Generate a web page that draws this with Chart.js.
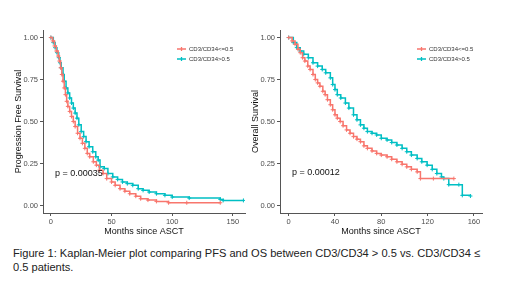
<!DOCTYPE html>
<html>
<head>
<meta charset="utf-8">
<script src="https://cdn.jsdelivr.net/npm/chart.js@4.4.1/dist/chart.umd.min.js"></script>
<style>
  body { margin: 0; background: #fff; width: 520px; height: 300px; overflow: hidden; position: relative; font-family: "Liberation Sans", Arial, sans-serif; }
  canvas { position: absolute; top: 0; }
  #pfs { left: 0; }
  #os  { left: 250px; }
  .caption { position: absolute; left: 13px; top: 246px; font-size: 11.1px; line-height: 14px; color: #222; }
</style>
</head>
<body>
<canvas id="pfs" width="250" height="240"></canvas>
<canvas id="os" width="250" height="240"></canvas>
<div class="caption">Figure 1: Kaplan-Meier plot comparing PFS and OS between CD3/CD34 &gt; 0.5 vs. CD3/CD34 ≤<br>0.5 patients.</div>

<script>
// ---- data ----
const groupLabels = ['CD3/CD34<=0.5', 'CD3/CD34>0.5'];

// PFS, CD3/CD34 <= 0.5
const pfsLowMonths = [0, 1.5, 3, 4.5, 6, 7, 8, 9, 10, 11, 12, 13, 14, 15.5, 17, 18.5, 20, 22, 24, 26, 28, 30, 32, 35, 37.5, 40, 43, 46, 50, 53, 57, 61, 65, 70, 74, 80, 87, 97, 112, 139.6];
const pfsLowSurv   = [1, 0.98, 0.95, 0.92, 0.89, 0.86, 0.82, 0.78, 0.74, 0.70, 0.66, 0.62, 0.59, 0.56, 0.53, 0.50, 0.47, 0.43, 0.40, 0.37, 0.34, 0.31, 0.29, 0.26, 0.24, 0.21, 0.19, 0.16, 0.14, 0.12, 0.10, 0.085, 0.07, 0.055, 0.04, 0.032, 0.024, 0.016, 0.016, 0.016];
// PFS, CD3/CD34 > 0.5
const pfsHighMonths = [0, 2, 3.5, 5, 6.5, 7.5, 8.5, 10, 11, 12.5, 14, 15.5, 17, 18.5, 20, 21.5, 23, 25, 27, 29, 31.5, 34.5, 37, 39, 40.5, 44, 47, 51, 55, 59, 63, 67.5, 72, 76, 81, 87, 94, 100, 114, 139.6, 142, 158.7];
const pfsHighSurv   = [1, 0.97, 0.94, 0.91, 0.88, 0.85, 0.82, 0.78, 0.74, 0.70, 0.67, 0.64, 0.61, 0.58, 0.55, 0.52, 0.48, 0.44, 0.41, 0.38, 0.35, 0.32, 0.29, 0.27, 0.23, 0.22, 0.19, 0.17, 0.155, 0.14, 0.13, 0.12, 0.10, 0.09, 0.08, 0.07, 0.06, 0.05, 0.044, 0.036, 0.03, 0.03];

// OS, CD3/CD34 <= 0.5
const osLowMonths = [0, 3, 5.5, 8, 10, 12, 14, 16.5, 18.5, 21, 23, 25, 27, 29.5, 31.5, 33.5, 36, 38, 40, 42, 44.5, 47, 50, 53, 56, 59, 62, 65, 68, 72, 76, 80, 85, 89, 93.5, 98, 102, 106, 111, 113.8, 125, 142.7];
const osLowSurv   = [1, 0.98, 0.96, 0.93, 0.91, 0.88, 0.86, 0.83, 0.81, 0.78, 0.75, 0.73, 0.71, 0.68, 0.66, 0.63, 0.60, 0.57, 0.54, 0.52, 0.50, 0.475, 0.45, 0.43, 0.41, 0.395, 0.38, 0.355, 0.34, 0.325, 0.31, 0.30, 0.29, 0.275, 0.26, 0.245, 0.23, 0.215, 0.20, 0.16, 0.16, 0.16];
// OS, CD3/CD34 > 0.5
const osHighMonths = [0, 4, 7, 10, 13, 17, 21, 25, 29, 32, 36, 38, 40, 42, 45, 49, 52, 56, 59, 62, 65, 68, 72, 76, 80, 85, 89, 93.5, 98, 102, 106, 111, 115, 119.6, 124, 128, 132, 134, 138.3, 147, 150, 157];
const osHighSurv   = [1, 0.97, 0.94, 0.92, 0.90, 0.88, 0.85, 0.83, 0.81, 0.79, 0.76, 0.72, 0.69, 0.66, 0.64, 0.61, 0.58, 0.54, 0.51, 0.48, 0.46, 0.44, 0.43, 0.42, 0.40, 0.39, 0.375, 0.36, 0.34, 0.32, 0.30, 0.28, 0.26, 0.24, 0.215, 0.19, 0.17, 0.16, 0.124, 0.124, 0.06, 0.056];

const pfsXTicks = [0, 50, 100, 150];
const osXTicks  = [0, 40, 80, 120, 160];
const survTicks = [0, 0.25, 0.5, 0.75, 1];

const RED  = '#F8766D';
const TEAL = '#00BFC4';
const colors = [RED, TEAL];

function toPoints(xs, ys) {
  return xs.map((x, i) => ({ x: x, y: ys[i] }));
}

// p-value text + small legend inside the panel
const panelText = {
  id: 'panelText',
  afterDatasetsDraw(chart, args, o) {
    const { ctx, scales: { x, y }, chartArea } = chart;
    ctx.save();
    ctx.fillStyle = '#111';
    ctx.font = '9px "Liberation Sans", Arial, sans-serif';
    ctx.textBaseline = 'middle';
    ctx.textAlign = 'left';
    ctx.fillText(o.pText, x.getPixelForValue(o.pAt[0]), y.getPixelForValue(o.pAt[1]));

    ctx.font = '6px "Liberation Sans", Arial, sans-serif';
    groupLabels.forEach((lab, i) => {
      const lx = chartArea.left + o.legendDx;
      const ly = o.legendY + i * 10;
      ctx.strokeStyle = colors[i];
      ctx.lineWidth = 1.3;
      ctx.beginPath();
      ctx.moveTo(lx, ly); ctx.lineTo(lx + 9, ly);
      ctx.moveTo(lx + 4.5, ly - 2); ctx.lineTo(lx + 4.5, ly + 2);
      ctx.stroke();
      ctx.fillStyle = '#333';
      ctx.fillText(lab, lx + 12, ly);
    });
    ctx.restore();
  }
};

function makeKM(id, cfg) {
  const tickFont = { family: '"Liberation Sans", Arial, sans-serif', size: 7.5 };
  const titleFont = { family: '"Liberation Sans", Arial, sans-serif', size: 9 };
  return new Chart(document.getElementById(id), {
    type: 'line',
    data: {
      datasets: cfg.series.map((s, i) => ({
        label: groupLabels[i],
        data: toPoints(s[0], s[1]),
        borderColor: colors[i],
        backgroundColor: colors[i],
        borderWidth: 1.5,
        stepped: true,
        pointStyle: 'cross',
        pointRadius: 2,
        pointBorderWidth: 1,
        pointBorderColor: colors[i],
      })),
    },
    options: {
      responsive: false,
      animation: false,
      layout: { padding: { top: 30, right: cfg.padRight, bottom: 0, left: 0 } },
      plugins: {
        legend: { display: false },
        tooltip: { enabled: false },
        panelText: { pText: cfg.pText, pAt: cfg.pAt, legendDx: cfg.legendDx, legendY: 49 },
      },
      scales: {
        x: {
          type: 'linear',
          min: cfg.xMin, max: cfg.xMax,
          afterBuildTicks: sc => { sc.ticks = cfg.xTicks.map(v => ({ value: v })); },
          afterFit: sc => { sc.height = 27; },
          grid: { drawOnChartArea: false, drawTicks: true, tickLength: 3, color: '#555' },
          border: { display: true, color: '#555', width: 1 },
          ticks: { font: tickFont, color: '#4d4d4d', padding: 1, maxRotation: 0 },
          title: { display: true, text: 'Months since ASCT', font: titleFont, color: '#111', padding: { top: 0, bottom: 3 } },
        },
        y: {
          min: -0.045, max: 1.045,
          afterBuildTicks: sc => { sc.ticks = survTicks.map(v => ({ value: v })); },
          afterFit: sc => { sc.width = cfg.yWidth; },
          grid: { drawOnChartArea: false, drawTicks: true, tickLength: 3, color: '#555' },
          border: { display: true, color: '#555', width: 1 },
          ticks: { font: tickFont, color: '#4d4d4d', padding: 2, callback: v => Number(v).toFixed(2) },
          title: { display: true, text: cfg.yTitle, font: titleFont, color: '#111', padding: { top: cfg.yTitlePad, bottom: 0 } },
        },
      },
    },
    plugins: [panelText],
  });
}

makeKM('pfs', {
  series: [[pfsLowMonths, pfsLowSurv], [pfsHighMonths, pfsHighSurv]],
  xMin: -6.5, xMax: 160, xTicks: pfsXTicks,
  yTitle: 'Progression Free Survival', yWidth: 43, yTitlePad: 13, padRight: 4,
  pText: 'p = 0.00035', pAt: [3.3, 0.19], legendDx: 134,
});

makeKM('os', {
  series: [[osLowMonths, osLowSurv], [osHighMonths, osHighSurv]],
  xMin: -7.5, xMax: 167, xTicks: osXTicks,
  yTitle: 'Overall Survival', yWidth: 30, yTitlePad: 0, padRight: 18,
  pText: 'p = 0.00012', pAt: [2.9, 0.195], legendDx: 137,
});
</script>
</body>
</html>
